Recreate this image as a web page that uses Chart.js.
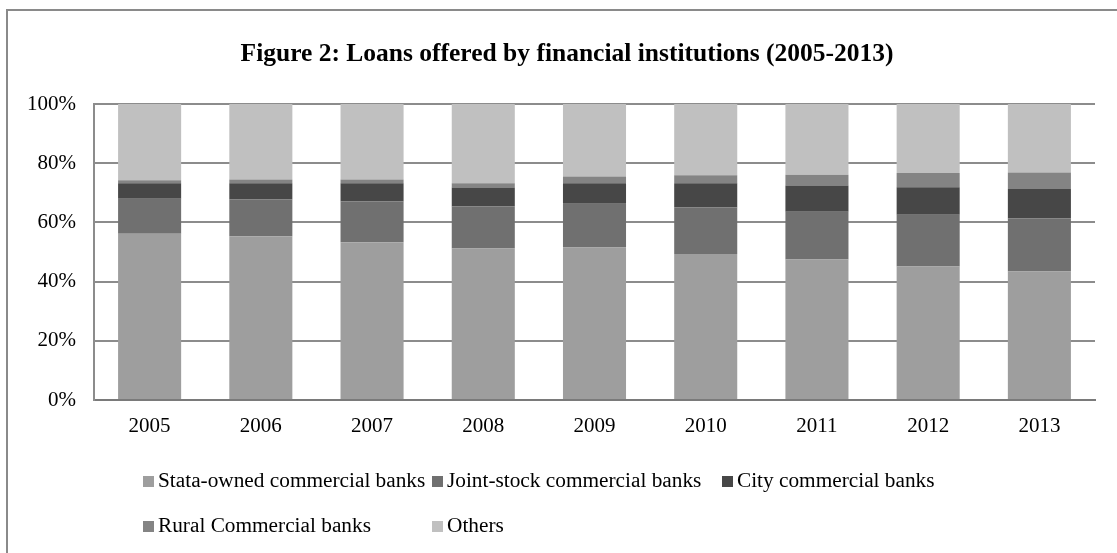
<!DOCTYPE html>
<html>
<head>
<meta charset="utf-8">
<title>Loans offered by financial institutions</title>
<script src="https://cdn.jsdelivr.net/npm/chart.js@4.4.1/dist/chart.umd.min.js"></script>
<style>
  html, body { margin: 0; padding: 0; background: #fff; }
  #wrap { position: relative; width: 1117px; height: 553px; overflow: hidden; }
  #frame {
    position: absolute; left: 6px; top: 9px; width: 1200px; height: 600px;
    border-left: 2px solid #8a8a8a; border-top: 2px solid #8a8a8a;
  }
  #chart { position: absolute; left: 0; top: 0; }
  .lg-item {
    position: absolute; height: 22px; line-height: 22px; white-space: nowrap;
    font-family: 'Liberation Serif', 'Times New Roman', serif; font-size: 21.3px; color: #000;
  }
  .lg-box { display: inline-block; width: 11px; height: 11px; margin-right: 4px; vertical-align: 0px; }
</style>
</head>
<body>
<div id="wrap">
  <div id="frame"></div>
  <canvas id="chart" width="1117" height="553"></canvas>
  <div id="legend"></div>
</div>
<script>
// ── Data ─────────────────────────────────────────────────────
const years = ['2005', '2006', '2007', '2008', '2009', '2010', '2011', '2012', '2013'];

const stateOwned = [56.2, 55.3, 53.3, 51.2, 51.5, 49.3, 47.5, 45.1, 43.4];
const jointStock = [11.8, 12.4, 13.8, 14.2, 14.8, 15.7, 16.1, 17.5, 17.9];
const cityBanks  = [5.2, 5.5, 6.1, 6.4, 6.9, 8.2, 8.9, 9.3, 10.0];
const ruralBanks = [1.0, 1.3, 1.3, 1.4, 2.3, 2.7, 3.6, 4.8, 5.6];
const others     = [25.8, 25.5, 25.5, 26.8, 24.5, 24.1, 23.9, 23.3, 23.1];

const seriesNames  = ['Stata-owned commercial banks', 'Joint-stock commercial banks', 'City commercial banks', 'Rural Commercial banks', 'Others'];
const seriesColors = ['#9e9e9e', '#707070', '#474747', '#848484', '#c0c0c0'];

const yTicks = [0, 20, 40, 60, 80, 100];

const titleText = 'Figure 2: Loans offered by financial institutions (2005-2013)';

// ── Helpers ──────────────────────────────────────────────────
const serif = "'Liberation Serif', 'Times New Roman', serif";
const gridGray = '#8c8c8c';

const seriesValues = [stateOwned, jointStock, cityBanks, ruralBanks, others];

const datasets = seriesNames.map((name, i) => ({
  label: name,
  data: seriesValues[i],
  backgroundColor: seriesColors[i],
  borderWidth: 0,
  barPercentage: 0.567,
  categoryPercentage: 1,
}));

// Excel centres the title on the whole chart frame, a bit right of the plot
const titlePlugin = {
  id: 'frameTitle',
  afterDraw(c) {
    const ctx = c.ctx;
    ctx.save();
    ctx.font = `bold 25.5px ${serif}`;
    ctx.fillStyle = '#000';
    ctx.textAlign = 'center';
    ctx.textBaseline = 'alphabetic';
    ctx.fillText(titleText, 567, 61);
    ctx.restore();
  },
};

// ── Chart ────────────────────────────────────────────────────
const chart = new Chart(document.getElementById('chart'), {
  type: 'bar',
  data: { labels: years, datasets },
  plugins: [titlePlugin],
  options: {
    responsive: false,
    animation: false,
    layout: { padding: { left: 0, right: 22, top: 104, bottom: 0 } },
    plugins: {
      legend: { display: false },
      tooltip: { enabled: false },
      title: { display: false },
    },
    scales: {
      x: {
        stacked: true,
        grid: { display: false, drawTicks: false },
        border: { display: true, color: '#7a7a7a', width: 2 },
        ticks: { color: '#000', font: { family: serif, size: 21 }, padding: 14 },
        afterFit: (scale) => { scale.height = 153; },
      },
      y: {
        stacked: true,
        min: 0,
        max: 100,
        afterBuildTicks: (scale) => { scale.ticks = yTicks.map((v) => ({ value: v })); },
        grid: { color: gridGray, lineWidth: 2, drawTicks: false },
        border: { display: true, color: gridGray, width: 2 },
        ticks: {
          color: '#000',
          font: { family: serif, size: 21 },
          padding: 18,
          callback: (v) => v + '%',
        },
        afterFit: (scale) => { scale.width = 94; },
      },
    },
  },
});

// ── Legend (Excel-style grid) ────────────────────────────────
const legendEl = document.getElementById('legend');
const colX = [143, 432, 722];
const rowY = [469, 514];
chart.data.datasets.forEach((ds, i) => {
  const item = document.createElement('div');
  item.className = 'lg-item';
  item.style.left = colX[i % 3] + 'px';
  item.style.top  = rowY[Math.floor(i / 3)] + 'px';
  item.innerHTML = `<span class="lg-box" style="background:${ds.backgroundColor}"></span>${ds.label}`;
  legendEl.appendChild(item);
});
</script>
</body>
</html>
